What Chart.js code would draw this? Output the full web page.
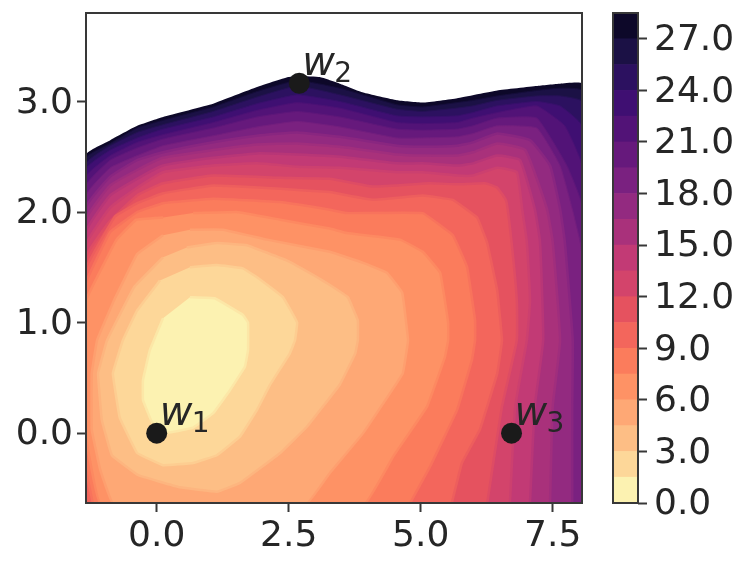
<!DOCTYPE html>
<html>
<head>
<meta charset="utf-8">
<script src="https://cdn.jsdelivr.net/npm/chart.js@4"></script>
<style>
  html, body { margin: 0; padding: 0; background: #fff; }
  #wrap { position: relative; width: 747px; height: 567px; overflow: hidden; }
  #wrap div { position: absolute; top: 0; height: 567px; }
</style>
</head>
<body>
<div id="wrap">
  <div style="left:0;width:600px"><canvas id="contour-chart"></canvas></div>
  <div style="left:600px;width:147px"><canvas id="colorbar-chart"></canvas></div>
</div>
<script>
// axis limits and ticks
const xLimits = [-1.339, 8.055];
const yLimits = [-0.632, 3.80];
const xTicks = [0, 2.5, 5, 7.5];
const yTicks = [0, 1, 2, 3];
const barTicks = [0, 3, 6, 9, 12, 15, 18, 21, 24, 27];

// contour levels, one colour for the band below each level
const levels = [1.5, 3, 4.5, 6, 7.5, 9, 10.5, 12, 13.5, 15, 16.5, 18, 19.5, 21, 22.5, 24, 25.5, 27, 28.5];
const bandColors = ['#fcf2b1', '#fdd799', '#fdbe85', '#fea875', '#fe9265', '#fb7c5c', '#f3665c', '#e5525f', '#d3446b',
    '#c23a75', '#a9317b', '#932a80', '#7a2180', '#66197c', '#521377', '#3f0f72', '#2c1160', '#1b1145', '#0d0829'];

// outline of the region below each level
const c1p5 = [[.63,1.23],[1.10,1.22],[1.63,1.07],[1.73,1.00],[1.73,.75],[1.67,.60],[1.39,.39],[1.07,.18],[.69,.05],[.16,0],[-.09,.10],[-.26,.30],[-.26,.48],[-.13,.75],[.12,1.04]];
const c3 = [[.63,1.50],[1.14,1.52],[1.63,1.49],[1.90,1.41],[2.39,1.23],[2.66,1.00],[2.62,.84],[2.52,.72],[2.15,.44],[1.90,.21],[1.58,-.03],[1.14,-.20],[.69,-.27],[.12,-.29],[-.37,-.18],[-.70,.14],[-.83,.54],[-.64,.84],[-.37,1.11],[.06,1.38]];
const c4p5 = [[.57,1.68],[1.14,1.72],[1.71,1.70],[2.47,1.56],[3.04,1.41],[3.28,1.34],[3.62,1.23],[3.81,1.02],[3.81,.84],[3.76,.72],[3.47,.44],[2.85,.06],[2.34,-.18],[1.58,-.45],[1.14,-.53],[.44,-.49],[-.35,-.38],[-.85,-.20],[-1.04,.12],[-1.11,.54],[-.94,.84],[-.43,1.32],[.12,1.59]];
const c6 = [[.63,1.84],[1.26,1.84],[2.09,1.75],[3.28,1.64],[3.91,1.54],[4.36,1.45],[4.65,1.27],[4.76,.84],[4.66,.54],[3.91,0],[3.28,-.36],[2.85,-.632],[-.83,-.632],[-1.07,-.33],[-1.23,.03],[-1.23,.54],[-1.13,.84],[-.81,1.20],[-.37,1.62],[.12,1.79]];
const c7p5 = [[.69,1.99],[1.52,2.00],[2.34,1.93],[3.28,1.85],[3.60,1.81],[4.61,1.75],[5.04,1.64],[5.37,1.45],[5.52,1.00],[5.52,.84],[5.46,.69],[5.12,.24],[4.48,-.21],[3.95,-.632],[-1.07,-.632],[-1.339,-.03],[-1.339,1.20],[-.98,1.55],[-.76,1.75],[-.39,1.93],[.12,1.95]];
const c9 = [[-1.21,-.632],[-1.339,-.33],[-1.339,1.36],[-.88,1.82],[-.37,2.00],[.12,2.08],[1.07,2.12],[2.34,2.09],[3.28,2.02],[3.60,1.99],[5.04,1.99],[5.61,1.79],[5.88,1.50],[6.03,1.02],[6.03,.84],[5.97,.66],[5.69,.21],[5.18,-.30],[4.80,-.632]];
const c10p5 = [[-1.339,-.632],[-1.339,1.49],[-.79,1.96],[-.37,2.08],[.12,2.17],[1.07,2.24],[2.34,2.21],[3.28,2.18],[4.10,2.11],[5.04,2.15],[5.61,2.11],[6.07,1.95],[6.26,1.72],[6.45,1.29],[6.54,.84],[6.45,.54],[6.12,.03],[5.78,-.27],[5.59,-.632]];
const c12 = [[-1.339,-.632],[-1.339,1.59],[-.88,1.92],[-.37,2.15],[.12,2.26],[1.07,2.33],[2.34,2.31],[3.28,2.30],[4.10,2.23],[5.18,2.26],[5.69,2.25],[6.22,2.26],[6.45,2.22],[6.62,2.10],[6.72,1.73],[6.82,1.20],[6.82,.84],[6.54,.24],[6.26,-.632]];
const c13p5 = [[-1.339,-.632],[-1.339,1.70],[-.88,2.04],[-.37,2.22],[.12,2.36],[1.07,2.42],[1.90,2.44],[2.66,2.41],[3.47,2.40],[4.55,2.36],[5.04,2.36],[5.69,2.33],[5.99,2.33],[6.45,2.40],[6.82,2.36],[6.92,2.03],[7.01,1.73],[7.07,1.20],[7.01,.84],[6.79,.24],[6.69,-.632]];
const c15 = [[-1.339,-.632],[-1.339,1.82],[-.88,2.15],[-.37,2.30],[.12,2.42],[1.07,2.49],[1.90,2.53],[2.66,2.52],[3.47,2.50],[4.55,2.44],[5.04,2.44],[5.69,2.42],[5.99,2.44],[6.45,2.51],[6.88,2.47],[7.16,2.03],[7.26,1.73],[7.32,.84],[7.16,.24],[7.07,-.632]];
const c16p5 = [[-1.339,-.632],[-1.339,1.93],[-.88,2.24],[-.37,2.38],[.12,2.49],[1.07,2.56],[1.90,2.61],[2.66,2.62],[3.47,2.59],[4.55,2.52],[5.04,2.51],[5.69,2.51],[5.99,2.54],[6.45,2.62],[6.98,2.56],[7.39,2.03],[7.50,1.73],[7.64,.84],[7.50,.24],[7.45,-.632]];
const c18 = [[-1.339,-.632],[-1.339,2.04],[-.88,2.32],[-.37,2.47],[.12,2.54],[1.07,2.63],[1.90,2.69],[2.66,2.72],[3.47,2.68],[4.55,2.60],[5.04,2.59],[5.69,2.60],[5.99,2.63],[6.45,2.71],[7.07,2.65],[7.45,2.42],[7.64,2.03],[7.73,1.73],[7.88,.84],[7.87,.24],[7.87,-.632]];
const c19p5 = [[-1.339,-.632],[-1.339,2.15],[-.88,2.40],[-.37,2.51],[.12,2.60],[1.07,2.69],[1.90,2.77],[2.66,2.82],[3.47,2.77],[4.55,2.67],[5.04,2.67],[5.69,2.68],[5.99,2.71],[6.45,2.78],[7.20,2.76],[7.64,2.42],[7.87,2.03],[8.02,1.73],[8.055,1.61],[8.055,-.632]];
const c21 = [[-1.339,-.632],[-1.339,2.24],[-.88,2.47],[-.37,2.58],[.12,2.66],[1.07,2.76],[1.90,2.86],[2.66,2.91],[3.47,2.86],[4.55,2.75],[5.04,2.74],[5.69,2.75],[5.99,2.78],[6.45,2.85],[7.20,2.85],[7.77,2.42],[8.055,2.06],[8.055,-.632]];
const c22p5 = [[-1.339,-.632],[-1.339,2.32],[-.88,2.51],[-.37,2.63],[.12,2.70],[1.07,2.81],[1.90,2.92],[2.66,2.99],[3.47,2.94],[4.55,2.81],[5.04,2.80],[5.69,2.81],[5.99,2.85],[6.45,2.90],[7.20,2.96],[7.73,2.78],[8.055,2.42],[8.055,-.632]];
const c24 = [[-1.339,-.632],[-1.339,2.39],[-.88,2.56],[-.37,2.67],[.12,2.75],[1.07,2.86],[1.90,2.98],[2.66,3.06],[3.47,3.00],[4.55,2.87],[5.04,2.86],[5.69,2.87],[5.99,2.90],[6.45,2.96],[7.20,3.00],[7.64,2.96],[8.055,2.78],[8.055,-.632]];
const c25p5 = [[-1.339,-.632],[-1.339,2.44],[-.88,2.60],[-.37,2.72],[.12,2.79],[1.07,2.91],[1.90,3.04],[2.66,3.14],[3.47,3.06],[4.55,2.93],[5.04,2.91],[5.69,2.94],[5.99,2.96],[6.45,3.01],[7.20,3.05],[7.64,3.05],[8.055,3.00],[8.055,-.632]];
const c27 = [[-1.339,-.632],[-1.339,2.49],[-.88,2.62],[-.37,2.76],[.12,2.83],[1.07,2.95],[1.90,3.09],[2.66,3.19],[3.47,3.12],[4.55,2.97],[5.04,2.95],[5.69,2.99],[5.99,3.01],[6.45,3.05],[7.20,3.10],[7.64,3.12],[8.055,3.10],[8.055,-.632]];
const c28p5 = [[-1.339,-.632],[-1.339,2.52],[-.88,2.65],[-.37,2.78],[.12,2.86],[1.07,2.98],[1.90,3.13],[2.49,3.22],[2.72,3.23],[3.09,3.22],[3.47,3.16],[3.91,3.08],[4.55,3.01],[5.04,2.99],[5.69,3.03],[6.45,3.10],[7.20,3.14],[7.64,3.16],[8.055,3.16],[8.055,-.632]];
const contours = [c1p5, c3, c4p5, c6, c7p5, c9, c10p5, c12, c13p5, c15, c16p5, c18, c19p5, c21, c22p5, c24, c25p5, c27, c28p5];

// the three marked points
const markerX = [0, 2.7, 6.72];
const markerY = [0, 3.165, 0];
const markerNames = ['1', '2', '3'];

const inkColor = '#262626';
const spineColor = '#383838';

function toPoints(list) {
    return list.map(p => ({ x: p[0], y: p[1] }));
}

// colour of the soft edge between two neighbouring bands
function mixColor(a, b) {
    const parts = c => [1, 3, 5].map(i => parseInt(c.substr(i, 2), 16));
    const pa = parts(a), pb = parts(b);
    return 'rgb(' + pa.map((v, i) => Math.round(v * 0.6 + pb[i] * 0.4)).join(',') + ')';
}

const contourSets = contours.map((list, i) => ({
    data: toPoints(list),
    showLine: true,
    fill: 'shape',
    tension: i >= 7 ? 0.12 : 0.06,
    pointRadius: 0,
    backgroundColor: bandColors[i],
    borderColor: mixColor(bandColors[i], bandColors[Math.min(i + 1, bandColors.length - 1)]),
    borderWidth: i === bandColors.length - 1 ? 0 : (i >= 12 ? 1 : 2.5),
    borderJoinStyle: 'round'
}));

// y scales otherwise keep half a label of room above the axes
function fixPadding(s) {
    s.paddingTop = 0;
    s.paddingBottom = 0;
    s.paddingLeft = 0;
    s.paddingRight = 0;
}

// the digits sit a little low in the reference, so nudge the y labels
function nudgeLabels(s) {
    if (s.nudged) return;
    s.nudged = true;
    const draw = s.drawLabels;
    s.drawLabels = function (area) {
        s.ctx.save();
        s.ctx.translate(0, 2);
        draw.call(s, area);
        s.ctx.restore();
    };
}

// draws the box round the axes
const framePlugin = {
    id: 'frame',
    afterDatasetsDraw(chart) {
        const a = chart.chartArea, ctx = chart.ctx;
        ctx.save();
        ctx.strokeStyle = spineColor;
        ctx.lineWidth = 2;
        ctx.strokeRect(a.left, a.top, a.right - a.left, a.bottom - a.top);
        ctx.restore();
    }
};

// w labels next to the points
const wLabelPlugin = {
    id: 'wLabels',
    afterDraw(chart) {
        const ctx = chart.ctx;
        ctx.save();
        ctx.fillStyle = inkColor;
        ctx.textBaseline = 'alphabetic';
        markerX.forEach((x, i) => {
            const px = chart.scales.x.getPixelForValue(x);
            const py = chart.scales.y.getPixelForValue(markerY[i]);
            ctx.font = 'italic 40px "DejaVu Sans"';
            ctx.fillText('w', px + 3, py - 8);
            ctx.font = '28px "DejaVu Sans"';
            ctx.fillText(markerNames[i], px + 35, py - 1);
        });
        ctx.restore();
    }
};

const tickFont = { family: '"DejaVu Sans"', size: 36 };

new Chart(document.getElementById('contour-chart'), {
    type: 'scatter',
    data: {
        datasets: [{
            data: markerX.map((x, i) => ({ x: x, y: markerY[i] })),
            pointRadius: 10.5,
            pointBackgroundColor: '#1a1a1a',
            pointBorderWidth: 0,
            showLine: false
        }].concat(contourSets)
    },
    options: {
        animation: false,
        responsive: true,
        maintainAspectRatio: false,
        layout: { padding: { top: 13, right: 18, left: 0, bottom: 0 } },
        plugins: { legend: { display: false }, tooltip: { enabled: false } },
        scales: {
            x: {
                type: 'linear',
                min: xLimits[0],
                max: xLimits[1],
                afterBuildTicks: s => { s.ticks = xTicks.map(v => ({ value: v })); },
                afterFit: s => { s.height = 64; fixPadding(s); },
                border: { display: false },
                grid: { drawOnChartArea: false, tickLength: 9, tickWidth: 2, tickColor: spineColor },
                ticks: { color: inkColor, font: tickFont, padding: 3, maxRotation: 0, autoSkip: false, callback: v => v.toFixed(1) }
            },
            y: {
                type: 'linear',
                min: yLimits[0],
                max: yLimits[1],
                afterBuildTicks: s => { s.ticks = yTicks.map(v => ({ value: v })); },
                afterFit: s => { s.width = 86; fixPadding(s); nudgeLabels(s); },
                border: { display: false },
                grid: { drawOnChartArea: false, tickLength: 9, tickWidth: 2, tickColor: spineColor },
                ticks: { color: inkColor, font: tickFont, padding: 4, autoSkip: false, callback: v => v.toFixed(1) }
            }
        }
    },
    plugins: [framePlugin, wLabelPlugin]
});

// Colour bar
new Chart(document.getElementById('colorbar-chart'), {
    type: 'bar',
    data: {
        labels: [''],
        datasets: levels.map((level, i) => ({
            data: [1.5],
            backgroundColor: bandColors[i],
            borderWidth: 0,
            categoryPercentage: 1,
            barPercentage: 1
        }))
    },
    options: {
        animation: false,
        responsive: true,
        maintainAspectRatio: false,
        layout: { padding: { top: 13, left: 13, right: 0, bottom: 64 } },
        plugins: { legend: { display: false }, tooltip: { enabled: false } },
        scales: {
            x: { stacked: true, display: false },
            y: {
                stacked: true,
                position: 'right',
                min: 0,
                max: 28.5,
                afterBuildTicks: s => { s.ticks = barTicks.map(v => ({ value: v })); },
                afterFit: s => { s.width = 109; fixPadding(s); nudgeLabels(s); },
                border: { display: false },
                grid: { drawOnChartArea: false, tickLength: 9, tickWidth: 2, tickColor: spineColor },
                ticks: { color: inkColor, font: tickFont, padding: 7, autoSkip: false, callback: v => v.toFixed(1) }
            }
        }
    },
    plugins: [framePlugin]
});
</script>
</body>
</html>
